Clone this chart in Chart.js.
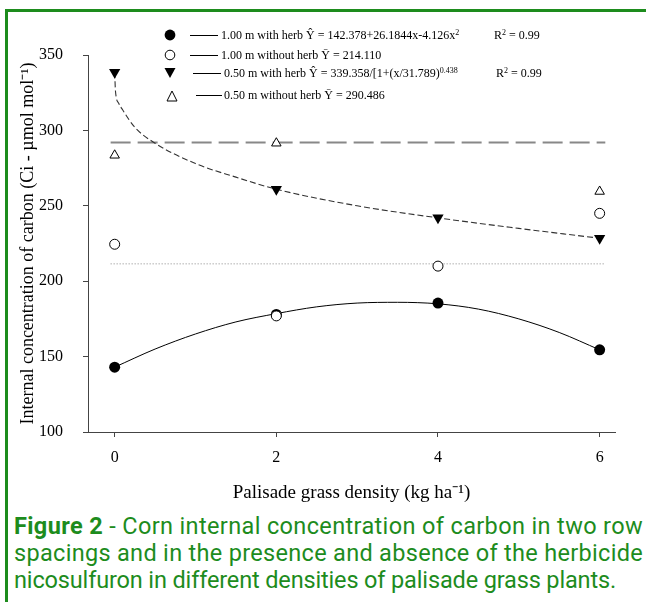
<!DOCTYPE html>
<html>
<head>
<meta charset="utf-8">
<script src="https://cdn.jsdelivr.net/npm/chart.js@4"></script>
<style>
  body { margin: 0; background: #fff; width: 646px; height: 602px; position: relative; overflow: hidden; }
  #frameTop { position: absolute; left: 5px; top: 9px; width: 641px; height: 3px; background: #1d8c1d; }
  #frameLeft { position: absolute; left: 5px; top: 9px; width: 3px; height: 593px; background: #1d8c1d; }
  #wrap { position: absolute; left: 0; top: 0; width: 646px; height: 510px; }
  .leg { position: absolute; font: 12px "Liberation Serif", "Times New Roman", serif; color: #000; white-space: nowrap; line-height: 14px; }
  .leg sup { font-size: 8px; vertical-align: 4px; line-height: 0; }
  .mk { position: absolute; }
  .ln { position: absolute; height: 1px; background: #000; }
  #caption { position: absolute; left: 14px; top: 513px; font: 23.5px Roboto, sans-serif; color: #1d8c1d; line-height: 27px; white-space: nowrap; }
  #caption .cl { display: inline-block; }
  #caption b { font-weight: 700; }
</style>
</head>
<body>
<div id="frameTop"></div>
<div id="frameLeft"></div>
<div id="wrap"><canvas id="chart" width="646" height="510"></canvas></div>

<!-- legend -->
<svg class="mk" style="left:164px;top:29px" width="12" height="12"><circle cx="6" cy="6" r="5.4" fill="#000"/></svg>
<div class="ln" style="left:190px;top:35px;width:28px"></div>
<div class="leg" style="left:221px;top:28px">1.00 m with herb Ŷ = 142.378+26.1844x-4.126x<sup>2</sup></div>
<div class="leg" style="left:494px;top:28px">R<sup>2</sup> = 0.99</div>

<svg class="mk" style="left:164px;top:49px" width="12" height="12"><circle cx="6" cy="6" r="4.8" fill="#fff" stroke="#000" stroke-width="1"/></svg>
<div class="ln" style="left:190px;top:55px;width:28px"></div>
<div class="leg" style="left:221px;top:48px">1.00 m without herb Ȳ = 214.110</div>

<svg class="mk" style="left:164px;top:67px" width="12" height="12"><polygon points="0.5,1 11.5,1 6,11" fill="#000"/></svg>
<div class="ln" style="left:193px;top:73px;width:28px"></div>
<div class="leg" style="left:224px;top:66px">0.50 m with herb Ŷ = 339.358/[1+(x/31.789)<sup>0.438</sup></div>
<div class="leg" style="left:496px;top:66px">R<sup>2</sup> = 0.99</div>

<svg class="mk" style="left:166px;top:90px" width="12" height="12"><polygon points="6,1 11,11 1,11" fill="#fff" stroke="#000" stroke-width="1"/></svg>
<div class="ln" style="left:196px;top:95px;width:26px"></div>
<div class="leg" style="left:224px;top:88px">0.50 m without herb Ȳ = 290.486</div>

<div id="caption"><span class="cl"><b>Figure 2</b> - Corn internal concentration of carbon in two row</span><br><span class="cl">spacings and in the presence and absence of the herbicide</span><br><span class="cl">nicosulfuron in different densities of palisade grass plants.</span></div>

<script>
// observed means, x = palisade grass density (kg/ha)
const densities = [0, 2, 4, 6];
const with100 = [143, 178, 185.5, 154.5];
const without100 = [224.5, 177, 210, 245];
const with050 = [338.5, 261, 242, 228.5];
const without050 = [283.5, 291.5, null, 259.5];

// fitted curves
const quadX = [0, 0.5, 1, 1.5, 2, 2.5, 3, 3.5, 4, 4.5, 5, 5.5, 6];
const quadY = [143, 155, 165, 173, 178.5, 183, 185.5, 186, 185, 181.5, 175, 166, 154.5];
const powX = [0, 0.01, 0.05, 0.1, 0.25, 0.5, 1, 1.5, 2, 3, 4, 5, 6];
const powY = [338.5, 326, 318, 313.5, 302, 291.5, 278, 269, 261, 250, 242, 235, 228.5];

// horizontal means
const meanX = [-0.05, 6.07];
const mean050 = [292, 292];
const mean100 = [211.5, 211.5];

const xTicks = [0, 2, 4, 6];

const toXY = (xs, ys) => xs.map((x, i) => ({ x: x, y: ys[i] }));

const serif = '"Liberation Serif", "Times New Roman", serif';
const axisColor = '#444';

new Chart(document.getElementById('chart'), {
  type: 'scatter',
  data: {
    datasets: [
      {
        type: 'line', data: toXY(quadX, quadY), borderColor: '#000', borderWidth: 1,
        pointRadius: 0, cubicInterpolationMode: 'monotone', order: 10
      },
      {
        type: 'line', data: toXY(powX, powY), borderColor: '#333', borderWidth: 1.1,
        borderDash: [6, 3], pointRadius: 0, cubicInterpolationMode: 'monotone', order: 10
      },
      {
        type: 'line', data: toXY(meanX, mean050), borderColor: '#888', borderWidth: 2,
        borderDash: [20, 7], pointRadius: 0, order: 10
      },
      {
        type: 'line', data: toXY(meanX, mean100), borderColor: '#888', borderWidth: 1,
        borderDash: [1, 2], pointRadius: 0, order: 10
      },
      {
        data: toXY(densities, with100), pointStyle: 'circle', pointRadius: 5.5,
        backgroundColor: '#000', borderColor: '#000', borderWidth: 0, order: 4
      },
      {
        data: toXY(densities, without100), pointStyle: 'circle', pointRadius: 5,
        backgroundColor: '#fff', borderColor: '#000', borderWidth: 1, order: 3
      },
      {
        data: toXY(densities, with050), pointStyle: 'triangle', pointRotation: 180, pointRadius: 6.5,
        backgroundColor: '#000', borderColor: '#000', borderWidth: 0, order: 2
      },
      {
        data: toXY(densities, without050), pointStyle: 'triangle', pointRadius: 5.5,
        backgroundColor: '#fff', borderColor: '#000', borderWidth: 1, order: 5
      }
    ]
  },
  options: {
    responsive: false,
    animation: false,
    layout: { padding: { top: 55, right: 31, left: 0, bottom: 0 } },
    plugins: { legend: { display: false }, tooltip: { enabled: false } },
    scales: {
      x: {
        type: 'linear', min: -0.33, max: 6.19,
        afterFit: s => { s.height = 78; },
        afterBuildTicks: s => { s.ticks = xTicks.map(v => ({ value: v })); },
        grid: { drawOnChartArea: false, tickLength: 5, color: axisColor },
        border: { color: axisColor, width: 1 },
        ticks: { font: { family: serif, size: 16 }, color: '#000', padding: 11 },
        title: {
          display: true, text: 'Palisade grass density (kg ha⁻¹)', color: '#000',
          font: { family: serif, size: 19 }, padding: { top: 0, bottom: 6 }
        }
      },
      y: {
        min: 100, max: 350,
        afterFit: s => { s.width = 88; },
        grid: { drawOnChartArea: false, tickLength: 5, color: axisColor },
        border: { color: axisColor, width: 1 },
        ticks: { stepSize: 50, font: { family: serif, size: 16 }, color: '#000', padding: 20 },
        title: {
          display: true, text: 'Internal concentration of carbon (Ci - µmol mol⁻¹)', color: '#000',
          font: { family: serif, size: 18 }, padding: { top: 17, bottom: 0 }
        }
      }
    }
  }
});

// stretch caption lines to the widths they have in the figure
const capWidths = [629, 629, 602];
document.fonts.ready.then(() => {
  document.querySelectorAll('#caption .cl').forEach((el, i) => {
    const w = el.getBoundingClientRect().width;
    el.style.letterSpacing = ((capWidths[i] - w) / el.textContent.length) + 'px';
  });
});
</script>
</body>
</html>
